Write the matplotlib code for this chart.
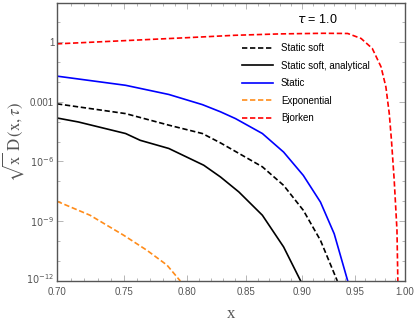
import numpy as np
import matplotlib
matplotlib.use("Agg")
import matplotlib.pyplot as plt
import matplotlib.transforms as mtransforms
from matplotlib.ticker import FixedLocator, NullFormatter

plt.rcParams['font.family'] = ['Liberation Sans', 'DejaVu Sans']

# values, y as log10
x_soft = [0.70, 0.751, 0.785, 0.8125, 0.8277, 0.864, 0.883, 0.901, 0.917, 0.933]
y_soft = [-3.11, -3.60, -4.18, -4.60, -5.07, -6.27, -7.20, -8.45, -9.96, -12.0]

x_anal = [0.70, 0.7155, 0.751, 0.7623, 0.785, 0.8136, 0.8277, 0.8434, 0.864, 0.883, 0.8986]
y_anal = [-3.82, -4.02, -4.60, -4.94, -5.35, -6.19, -6.78, -7.53, -8.70, -10.29, -12.0]

x_static = [0.70, 0.751, 0.785, 0.8125, 0.8277, 0.8405, 0.864, 0.883, 0.901, 0.917, 0.930, 0.943]
y_static = [-1.72, -2.18, -2.64, -3.15, -3.51, -3.85, -4.60, -5.53, -6.70, -8.04, -9.63, -12.0]

x_exp = [0.70, 0.7241, 0.7494, 0.7676, 0.7835, 0.7943]
y_exp = [-8.0, -8.7, -9.7, -10.46, -11.2, -12.0]

x_bj = [0.70, 0.75, 0.80, 0.84, 0.88, 0.92, 0.943, 0.956, 0.967, 0.9757, 0.9806, 0.984, 0.9862, 0.989, 0.9918, 0.9927]
y_bj = [-0.10, 0.06, 0.21, 0.33, 0.40, 0.43, 0.42, 0.17, -0.33, -1.25, -2.26, -3.60, -4.93, -6.94, -9.45, -12.0]

xticks = [0.70, 0.75, 0.80, 0.85, 0.90, 0.95, 1.00]
yticks = [1e-12, 1e-9, 1e-6, 1e-3, 1]
ylabels = [r'$10^{-12}$', r'$10^{-9}$', r'$10^{-6}$', '0.001', '1']

fig = plt.figure(figsize=(4.15, 3.22), dpi=100)
ax = fig.add_axes([57/415, 1-281/322, 348/415, 278/322])

dash = (3.2, 1.6)
lw = 1.2
ax.plot(x_soft, 10.0**np.array(y_soft), color='black', lw=lw, dashes=dash, label='Static soft')
ax.plot(x_anal, 10.0**np.array(y_anal), color='black', lw=lw, label='Static soft, analytical')
ax.plot(x_static, 10.0**np.array(y_static), color='#0000ff', lw=lw, label='Static')
ax.plot(x_exp, 10.0**np.array(y_exp), color='#ff8c1a', lw=lw, dashes=dash, label='Exponential')
ax.plot(x_bj, 10.0**np.array(y_bj), color='#ff0000', lw=lw, dashes=dash, label='Bjorken')

ax.set_xscale('log')
ax.set_yscale('log')
ax.set_xlim(0.70, 1.00)
ax.set_ylim(1e-12, 10**1.95)

ax.xaxis.set_major_locator(FixedLocator(xticks))
ax.set_xticklabels(['%.2f' % v for v in xticks])
ax.xaxis.set_minor_locator(FixedLocator(np.arange(0.70, 1.0, 0.01)))
ax.xaxis.set_minor_formatter(NullFormatter())
ax.yaxis.set_major_locator(FixedLocator(yticks))
ax.set_yticklabels(ylabels)
ax.yaxis.set_minor_locator(FixedLocator([10.0**k for k in range(-12, 2)]))
ax.yaxis.set_minor_formatter(NullFormatter())

ax.tick_params(which='both', direction='in', top=True, right=True, colors='#aaaaaa',
               labelcolor='#555555', labelsize=7, width=0.6)
ax.tick_params(which='major', length=4)
ax.tick_params(which='minor', length=2)
ax.tick_params(axis='x', pad=4)
ax.tick_params(axis='y', pad=2)
for s in ax.spines.values():
    s.set_color('#555555')
    s.set_linewidth(1.0)

# lift the bottom y label a bit so it clears 0.70
lbl = ax.get_yticklabels()[0]
lbl.set_transform(lbl.get_transform() + mtransforms.ScaledTranslation(0, 3/100, fig.dpi_scale_trans))

ax.set_xlabel('x', fontsize=12, color='#555555', family='Liberation Serif', labelpad=7)
ax.set_ylabel(r'$\sqrt{\mathrm{x}}\ \mathrm{D}\,(\mathrm{x},\tau)$', fontsize=12,
              color='#555555', math_fontfamily='stix', labelpad=0)

ax.text(0.747, 0.939, r'$\tau$ = 1.0', transform=ax.transAxes, fontsize=9, ha='center', va='center')

ax.legend(loc='upper left', bbox_to_anchor=(0.532, 0.856), frameon=False, fontsize=7,
          handlelength=3.2, handletextpad=0.8, labelspacing=0.78, borderaxespad=0, borderpad=0)

fig.savefig('out.png', dpi=100)
